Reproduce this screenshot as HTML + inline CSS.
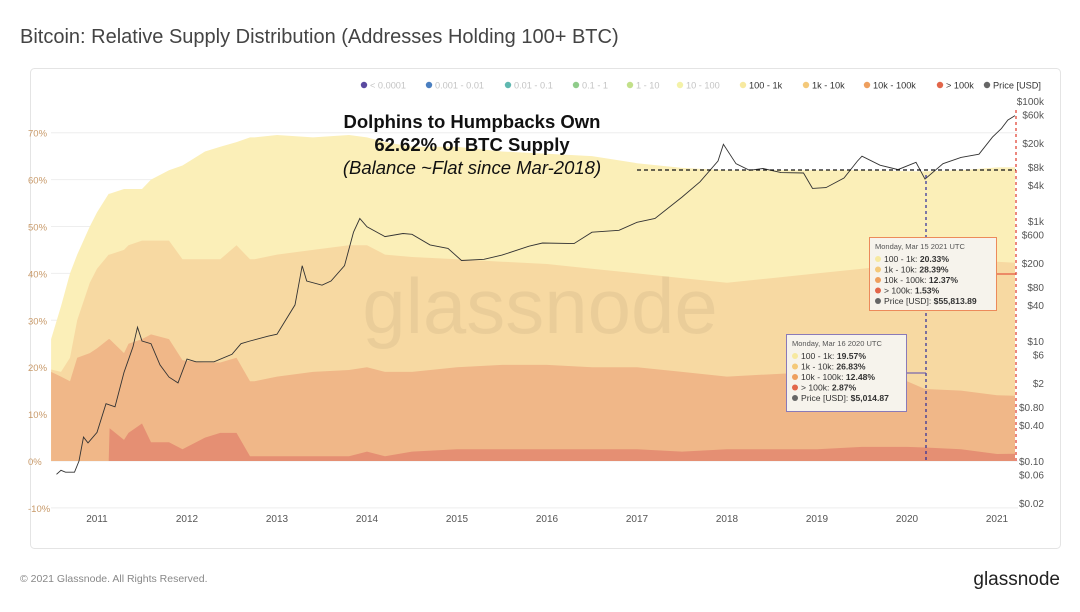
<!DOCTYPE html>
<html><head><meta charset="utf-8"><style>
body{margin:0;background:#fff;width:1080px;height:607px;overflow:hidden;font-family:"Liberation Sans",sans-serif}
</style></head><body>
<svg id="s" width="1080" height="607" xmlns="http://www.w3.org/2000/svg">
<text x="20" y="43" font-size="20" fill="#444">Bitcoin: Relative Supply Distribution (Addresses Holding 100+ BTC)</text>
<rect x="30.5" y="68.5" width="1030" height="480" rx="4" fill="#fff" stroke="#e4e4e4"/>
<g id="grid"></g>
<g id="areas"></g>
<text x="540" y="333" font-size="78" fill="#000" fill-opacity="0.05" text-anchor="middle">glassnode</text>
<g id="price"></g>
<g id="axes"></g>
<g id="legend"></g>
<g id="annot"></g>
<text x="20" y="582" font-size="10.5" fill="#888">© 2021 Glassnode. All Rights Reserved.</text>
<text x="1060" y="585" font-size="19" fill="#222" text-anchor="end">glassnode</text>
</svg>
<script>
const dates=[2010.49,2010.6,2010.7,2010.78,2010.92,2011.0,2011.13,2011.14,2011.3,2011.35,2011.5,2011.6,2011.8,2011.95,2012.2,2012.37,2012.55,2012.7,2012.75,2013.0,2013.4,2013.8,2014.0,2014.2,2014.5,2015.0,2015.5,2016.0,2016.5,2017.0,2017.5,2018.0,2018.5,2019.0,2019.5,2020.0,2020.2,2020.6,2021.0,2021.2];
const over100k=[0,0,0,0,0,0,0,7,4.5,6,8,4,4,2.5,5,6,6,1,1,1,1,1,2,1,2,2.5,2.5,2.5,2.5,2.5,2,2.5,2.5,2.5,3,3,2.87,2.5,1.5,1.53];
const b10kTo100k=[19,18,17,22,23,24,26,19,18.5,19,18,23,22,19,16,15,16,16,16,17,18,18.4,18,18,17,17.5,18,18,17.5,17.5,17,15.5,16,16.5,16,14,12.48,12.5,12.5,12.37];
const b1kTo10k=[0.5,1,5,8,15,17,18,18,22,21,21,20,21,21.5,22,22,24,26,26,26,26,26.6,26,25,24.5,23,22,21.5,21,20,20,20,20.5,21,22,25,26.83,27.3,28.5,28.39];
const b100To1k=[6.5,14,18,14,12,12,13,13,13,12,11,13,15,20,23,24,22,26,26,25.5,24,23.5,23,24,23.5,24,23.5,23.5,24,23.5,23.5,24,23,22,21,19.8,19.57,19.7,20.1,20.33];
const priceDates=[2010.55,2010.6,2010.65,2010.75,2010.8,2010.85,2010.9,2011.0,2011.1,2011.2,2011.3,2011.4,2011.45,2011.5,2011.6,2011.7,2011.8,2011.9,2012.0,2012.1,2012.3,2012.5,2012.6,2012.7,2012.9,2013.0,2013.2,2013.28,2013.33,2013.5,2013.6,2013.75,2013.85,2013.92,2014.0,2014.2,2014.4,2014.5,2014.7,2014.9,2015.05,2015.3,2015.5,2015.8,2015.95,2016.3,2016.5,2016.8,2017.0,2017.2,2017.5,2017.7,2017.9,2017.96,2018.1,2018.25,2018.4,2018.6,2018.85,2018.95,2019.1,2019.3,2019.45,2019.5,2019.7,2019.9,2020.1,2020.2,2020.4,2020.6,2020.8,2020.95,2021.05,2021.12,2021.2];
const prices=[0.06,0.07,0.065,0.065,0.1,0.25,0.2,0.3,0.9,0.8,3,8,17,10,9,4,2.5,2,5,4.5,4.5,6,9,10,12,13,40,180,100,85,100,180,650,1100,800,550,620,600,400,350,220,230,270,380,430,420,650,700,950,1100,2500,4500,10000,19000,9000,7000,7500,6400,6300,3500,3600,5200,10000,12000,8500,7200,9500,5000,9000,11500,13000,25000,35000,48000,57000];
const yTicks=[-10,0,10,20,30,40,50,60,70];
const xTicks=[2011,2012,2013,2014,2015,2016,2017,2018,2019,2020,2021];
const priceTicks=[100000,60000,20000,8000,4000,1000,600,200,80,40,10,6,2,0.8,0.4,0.1,0.06,0.02];
const priceTickLabels=["$100k","$60k","$20k","$8k","$4k","$1k","$600","$200","$80","$40","$10","$6","$2","$0.80","$0.40","$0.10","$0.06","$0.02"];
const legendLabels=["< 0.0001","0.001 - 0.01","0.01 - 0.1","0.1 - 1","1 - 10","10 - 100","100 - 1k","1k - 10k","10k - 100k","> 100k","Price [USD]"];
const legendColors=["#5a4aa0","#4a7fc0","#5fb8b0","#8fcc8a","#c2e08a","#f4f2a8","#f7e9a0","#f4c97a","#ee9f5e","#e2664a","#666"];
const legendX=[364,429,508,576,630,680,743,806,867,940,987];

const NS="http://www.w3.org/2000/svg";
const X=yr=>97+(yr-2011)*90;
const Y=p=>461-p*4.69;
const PY=v=>461-(Math.log10(v)+1)*60;
function mk(tag,attrs,parent){const e=document.createElementNS(NS,tag);for(const k in attrs)e.setAttribute(k,attrs[k]);parent.appendChild(e);return e;}
const grid=document.getElementById('grid'),areas=document.getElementById('areas'),axes=document.getElementById('axes'),pg=document.getElementById('price'),lg=document.getElementById('legend'),an=document.getElementById('annot');

yTicks.forEach(t=>{
  const l=mk('line',{x1:51,x2:1018,y1:Y(t),y2:Y(t),stroke:'#eeeeee'},grid);
  
  
  const tx=mk('text',{x:28,y:Y(t)+4,'font-size':9.5,fill:'#c89a6a'},axes);
  tx.textContent=t+'%';
  
  
});
xTicks.forEach(t=>{
  const tx=mk('text',{x:X(t),y:522,'font-size':10,fill:'#555','text-anchor':'middle'},axes);
  tx.textContent=t;
  
  
});
priceTicks.forEach((t,i)=>{
  const tx=mk('text',{x:1044,y:PY(t)+4,'font-size':10,fill:'#555','text-anchor':'end'},axes);
  tx.textContent=priceTickLabels[i];
  
  
});

const series=[over100k,b10kTo100k,b1kTo10k,b100To1k];
const cols=['#e58f73','#f0b788','#f7d9a2','#fbefb8'];
const names=['area-over-100k','area-10k-100k','area-1k-10k','area-100-1k'];
const cum=dates.map(()=>0);const tops=[];
series.forEach(s=>{const t=cum.map((c,i)=>c+s[i]);tops.push(t);t.forEach((v,i)=>cum[i]=v);});
for(let k=3;k>=0;k--){
  let d='M'+X(dates[0])+','+Y(0);
  dates.forEach((dt,i)=>{d+=' L'+X(dt).toFixed(1)+','+Y(tops[k][i]).toFixed(1);});
  d+=' L'+X(dates[dates.length-1])+','+Y(0)+'Z';
  const p=mk('path',{d:d,fill:cols[k]},areas);
  
  
}
let pd='';
priceDates.forEach((dt,i)=>{pd+=(i?' L':'M')+X(dt).toFixed(1)+','+PY(prices[i]).toFixed(1);});
const pl=mk('path',{d:pd,fill:'none',stroke:'#333','stroke-width':0.9},pg);



legendLabels.forEach((lab,i)=>{
  const faded=i<6;
  const lx=legendX[i];
  const c=mk('circle',{cx:lx,cy:85,r:3.2,fill:legendColors[i]},lg);
  
  
  const t=mk('text',{x:lx+6,y:88.5,'font-size':9.2,fill:faded?'#c4c4c4':'#333'},lg);
  t.textContent=lab;
  
  
});

const d1=mk('line',{x1:637,x2:1016,y1:170,y2:170,stroke:'#111','stroke-width':1.3,'stroke-dasharray':'4,3'},an);


const d2=mk('line',{x1:1016,x2:1016,y1:110,y2:461,stroke:'#e03a2a','stroke-width':1.2,'stroke-dasharray':'3,3'},an);


const d3=mk('line',{x1:926,x2:926,y1:175,y2:461,stroke:'#2a2a9a','stroke-width':1.2,'stroke-dasharray':'3,3'},an);


const c1=mk('line',{x1:996,x2:1016,y1:274,y2:274,stroke:'#e03a2a','stroke-width':1},an);


const c2=mk('line',{x1:907,x2:926,y1:373,y2:373,stroke:'#5a4ab0','stroke-width':1},an);



const h=[["Dolphins to Humpbacks Own",128,'bold','normal'],["62.62% of BTC Supply",151,'bold','normal'],["(Balance ~Flat since Mar-2018)",174,'normal','italic']];
h.forEach(r=>{
  const t=mk('text',{x:472,y:r[1],'font-size':18.5,'font-weight':r[2],'font-style':r[3],fill:'#111','text-anchor':'middle'},an);
  t.textContent=r[0];
  
  
});

function tip(x,y,w,hh,border,date,rows){
  const g=mk('g',{},an);
  
  
  mk('rect',{x:x+.5,y:y+.5,width:w,height:hh,fill:'#f6f3ec',stroke:border,'stroke-width':1},g);
  const dt=mk('text',{x:x+6,y:y+12,'font-size':7.5,fill:'#555'},g);dt.textContent=date;
  rows.forEach((r,i)=>{
    mk('circle',{cx:x+9,cy:y+22+i*10.5,r:3,fill:r[2]},g);
    const t=mk('text',{x:x+15,y:y+25+i*10.5,'font-size':8.6,fill:'#333'},g);
    t.textContent=r[0];
    const b=mk('tspan',{'font-weight':'bold'},t);b.textContent=r[1];
  });
}
tip(869,237,127,73,'#ec8a5a','Monday, Mar 15 2021 UTC',[["100 - 1k: ","20.33%","#f7e9a0"],["1k - 10k: ","28.39%","#f4c97a"],["10k - 100k: ","12.37%","#ee9f5e"],["> 100k: ","1.53%","#e2664a"],["Price [USD]: ","$55,813.89","#666"]]);
tip(786,334,120,77,'#8a7ab8','Monday, Mar 16 2020 UTC',[["100 - 1k: ","19.57%","#f7e9a0"],["1k - 10k: ","26.83%","#f4c97a"],["10k - 100k: ","12.48%","#ee9f5e"],["> 100k: ","2.87%","#e2664a"],["Price [USD]: ","$5,014.87","#666"]]);
</script>
</body></html>
